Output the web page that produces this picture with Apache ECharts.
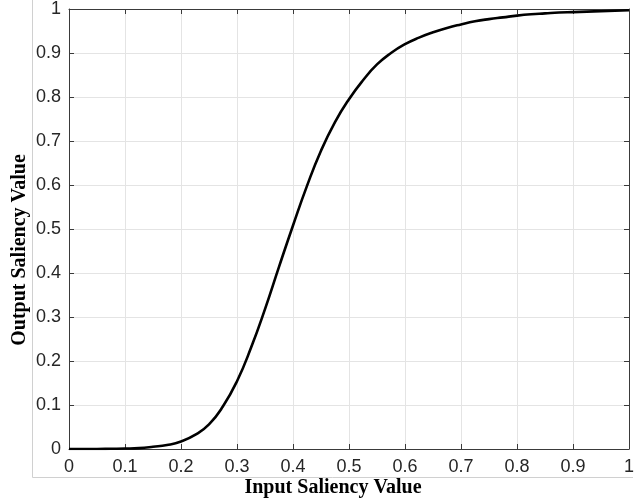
<!DOCTYPE html>
<html>
<head>
<meta charset="utf-8">
<script src="https://cdn.jsdelivr.net/npm/echarts@6/dist/echarts.min.js"></script>
<style>
html,body{margin:0;padding:0;background:#fff;}
#chart{width:641px;height:503px;}
</style>
</head>
<body>
<div id="chart"></div>
<script>
var inputValues = [0, 0.025, 0.05, 0.075, 0.1, 0.125, 0.15, 0.175, 0.2, 0.225, 0.25, 0.275, 0.3, 0.325, 0.35, 0.375, 0.4, 0.425, 0.45, 0.475, 0.5, 0.525, 0.55, 0.575, 0.6, 0.625, 0.65, 0.675, 0.7, 0.725, 0.75, 0.775, 0.8, 0.825, 0.85, 0.875, 0.9, 0.925, 0.95, 0.975, 1.0];
var outputValues = [0, 0, 0, 0.0005, 0.001, 0.002, 0.005, 0.009, 0.017, 0.032, 0.056, 0.097, 0.154, 0.23, 0.318, 0.414, 0.508, 0.598, 0.678, 0.743, 0.795, 0.838, 0.874, 0.9, 0.92, 0.935, 0.947, 0.957, 0.965, 0.972, 0.977, 0.981, 0.985, 0.988, 0.99, 0.992, 0.993, 0.994, 0.995, 0.996, 0.997];
var xTitle = 'Input Saliency Value';
var yTitle = 'Output Saliency Value';

var pairs = inputValues.map(function (x, i) { return [x, outputValues[i]]; });

var axisColor = '#3a3a3a';
var gridColor = '#e4e4e4';
var labelStyle = { color: '#262626', fontSize: 18, fontFamily: 'Liberation Sans, Arial, sans-serif' };

function fmt(v) { return String(Math.round(v * 10) / 10); }

var chart = echarts.init(document.getElementById('chart'), null, { renderer: 'canvas' });
chart.setOption({
  animation: false,
  backgroundColor: '#fff',
  grid: { left: 69, right: 12, top: 6, bottom: 54, containLabel: false },
  xAxis: [{
    type: 'value', min: 0, max: 1, interval: 0.1, position: 'bottom',
    axisLine: { show: true, onZero: false, lineStyle: { color: axisColor, width: 1 } },
    axisTick: { show: true, inside: true, length: 5, lineStyle: { color: axisColor } },
    splitLine: { show: true, lineStyle: { color: gridColor, width: 1 } },
    axisLabel: Object.assign({ margin: 9, formatter: fmt, showMaxLabel: true, showMinLabel: true }, labelStyle)
  }, {
    type: 'value', min: 0, max: 1, interval: 0.1, position: 'top',
    axisLine: { show: true, onZero: false, lineStyle: { color: axisColor, width: 1 } },
    axisTick: { show: true, inside: true, length: 5, lineStyle: { color: axisColor } },
    splitLine: { show: false },
    axisLabel: { show: false }
  }],
  yAxis: [{
    type: 'value', min: 0, max: 1, interval: 0.1, position: 'left',
    axisLine: { show: true, onZero: false, lineStyle: { color: axisColor, width: 1 } },
    axisTick: { show: true, inside: true, length: 5, lineStyle: { color: axisColor } },
    splitLine: { show: true, lineStyle: { color: gridColor, width: 1 } },
    axisLabel: Object.assign({ margin: 8, formatter: fmt, showMaxLabel: true, showMinLabel: true }, labelStyle)
  }, {
    type: 'value', min: 0, max: 1, interval: 0.1, position: 'right',
    axisLine: { show: true, onZero: false, lineStyle: { color: axisColor, width: 1 } },
    axisTick: { show: true, inside: true, length: 5, lineStyle: { color: axisColor } },
    splitLine: { show: false },
    axisLabel: { show: false }
  }],
  series: [{
    type: 'line',
    xAxisIndex: 0, yAxisIndex: 0,
    data: pairs,
    smooth: 0.5,
    showSymbol: false,
    symbol: 'none',
    lineStyle: { color: '#000', width: 2.6 },
    z: 5
  }],
  graphic: [
    { type: 'line', shape: { x1: 32.5, y1: 0, x2: 32.5, y2: 477.5 }, style: { stroke: '#d0d0d0', lineWidth: 1 }, silent: true },
    { type: 'line', shape: { x1: 32.5, y1: 477.5, x2: 633, y2: 477.5 }, style: { stroke: '#d0d0d0', lineWidth: 1 }, silent: true },
    { type: 'text', x: 333, y: 488, style: { text: xTitle, fill: '#000', align: 'center', verticalAlign: 'middle', font: 'bold 20px "Liberation Serif", "Times New Roman", serif' } },
    { type: 'text', x: 20, y: 250, rotation: Math.PI / 2, style: { text: yTitle, fill: '#000', align: 'center', verticalAlign: 'middle', font: 'bold 20px "Liberation Serif", "Times New Roman", serif' } }
  ]
});
</script>
</body>
</html>
